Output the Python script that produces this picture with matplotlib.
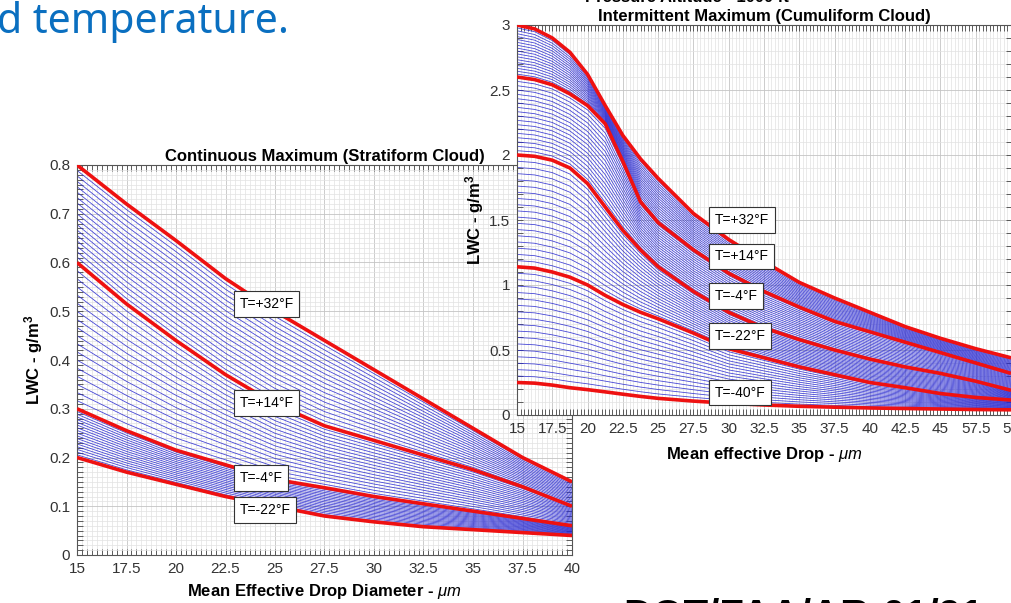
import matplotlib
matplotlib.use("Agg")
import matplotlib.pyplot as plt
from matplotlib.ticker import MultipleLocator, FixedLocator, FuncFormatter
import numpy as np

plt.rcParams.update({
    "font.family": ["Liberation Sans", "DejaVu Sans"],
    "mathtext.fontset": "custom",
    "mathtext.rm": "Liberation Sans",
    "mathtext.it": "Liberation Sans:italic",
    "mathtext.bf": "Liberation Sans:bold",
})

# ---------------- data ----------------
# Continuous maximum (stratiform cloud), LWC [g/m3] vs mean effective drop diameter [um]
cont_d = [15, 17.5, 20, 22.5, 25, 27.5, 30, 32.5, 35, 37.5, 40]
cont_p32 = [0.80, 0.72, 0.645, 0.567, 0.50, 0.44, 0.38, 0.32, 0.26, 0.20, 0.15]
cont_p14 = [0.60, 0.515, 0.44, 0.37, 0.31, 0.265, 0.235, 0.205, 0.175, 0.14, 0.10]
cont_m4 = [0.30, 0.255, 0.215, 0.185, 0.155, 0.138, 0.12, 0.105, 0.09, 0.075, 0.06]
cont_m22 = [0.20, 0.17, 0.145, 0.12, 0.10, 0.08, 0.068, 0.058, 0.052, 0.046, 0.04]
cont_labels = ["T=+32°F", "T=+14°F", "T=-4°F", "T=-22°F"]

# Intermittent maximum (cumuliform cloud)
int_d = [15, 16.25, 17.5, 18.75, 20, 21.25, 22.5, 23.75, 25, 27.5, 30, 32.5, 35,
         37.5, 40, 42.5, 45, 47.5, 50]
int_p32 = [3.0, 2.97, 2.9, 2.79, 2.62, 2.38, 2.15, 1.97, 1.82, 1.55, 1.35, 1.18, 1.02,
           0.9, 0.79, 0.68, 0.59, 0.51, 0.44]
int_p14 = [2.6, 2.58, 2.54, 2.47, 2.38, 2.24, 1.95, 1.64, 1.48, 1.27, 1.09, 0.95, 0.83,
           0.72, 0.64, 0.56, 0.48, 0.40, 0.32]
int_m4 = [2.0, 1.99, 1.96, 1.9, 1.78, 1.6, 1.42, 1.27, 1.14, 0.95, 0.79, 0.67, 0.58,
          0.5, 0.43, 0.37, 0.32, 0.26, 0.19]
int_m22 = [1.14, 1.13, 1.10, 1.06, 1.0, 0.92, 0.85, 0.79, 0.74, 0.63, 0.51, 0.44, 0.37,
           0.31, 0.25, 0.21, 0.165, 0.135, 0.115]
int_m40 = [0.25, 0.245, 0.23, 0.21, 0.195, 0.178, 0.16, 0.143, 0.128, 0.107, 0.09, 0.077,
           0.067, 0.06, 0.054, 0.05, 0.046, 0.042, 0.04]
int_labels = ["T=+32°F", "T=+14°F", "T=-4°F", "T=-22°F", "T=-40°F"]
int_ticks = [15, 17.5, 20, 22.5, 25, 27.5, 30, 32.5, 35, 37.5, 40, 42.5, 45, 47.5, 50]
int_xticklabels = ["15", "17.5", "20", "22.5", "25", "27.5", "30", "32.5", "35",
                   "37.5", "40", "42.5", "45", "57.5", "50"]

STEPS = 18  # 1 degF between labelled curves (18 degF apart)

W, H = 1011, 603
fig = plt.figure(figsize=(W / 100, H / 100), dpi=100)


def px(x0, y0, x1, y1):
    return [x0 / W, 1 - y1 / H, (x1 - x0) / W, (y1 - y0) / H]


def style(ax, xlim, ylim, ymaj, ymin):
    ax.set_xlim(*xlim); ax.set_ylim(*ylim)
    ax.xaxis.set_major_locator(MultipleLocator(2.5))
    ax.xaxis.set_minor_locator(MultipleLocator(0.25))
    ax.yaxis.set_major_locator(MultipleLocator(ymaj))
    ax.yaxis.set_minor_locator(MultipleLocator(ymin))
    fmt = FuncFormatter(lambda v, p: "%g" % round(v, 3))
    ax.xaxis.set_major_formatter(fmt); ax.yaxis.set_major_formatter(fmt)
    ax.grid(which="major", color="#c4c4c4", lw=0.6)
    ax.grid(which="minor", color="#e2e2e2", lw=0.5)
    ax.set_axisbelow(True)
    ax.tick_params(which="both", direction="in", top=True, right=True,
                   length=4, width=0.6, color="#444444")
    ax.tick_params(which="major", labelsize=11, labelcolor="#333333", pad=5)
    for s in ax.spines.values():
        s.set_color("#555555"); s.set_linewidth(0.8)


def family(ax, d, curves):
    d = np.array(d)
    for up, lo in zip(curves[:-1], curves[1:]):
        up = np.array(up); lo = np.array(lo)
        for k in range(1, STEPS):
            ax.plot(d, up + (lo - up) * k / STEPS, color="#2828d0", lw=0.6, alpha=0.85, zorder=2)
    for c in curves:
        ax.plot(d, c, color="#ee1111", lw=2.6, zorder=3, solid_capstyle="butt")


def tag(ax, x, y, s):
    ax.text(x, y, s, fontsize=10, ha="left", va="center", zorder=5,
            bbox=dict(boxstyle="square,pad=0.42", fc="white", ec="#333333", lw=0.8))


# ---------------- left chart ----------------
axL = fig.add_axes(px(77, 165, 572, 555))
style(axL, (15, 40), (0, 0.8), 0.1, 0.01)
family(axL, cont_d, [cont_p32, cont_p14, cont_m4, cont_m22])
for s, ly in zip(cont_labels, [0.515, 0.312, 0.158, 0.092]):
    tag(axL, 23.2, ly, s)
axL.set_title("Continuous Maximum (Stratiform Cloud)", fontsize=12, fontweight="bold", pad=3)
axL.set_xlabel(r"Mean Effective Drop Diameter - $\mu m$", fontsize=12, fontweight="bold")
axL.xaxis.set_label_coords(0.5, -0.068)
axL.xaxis.label.set_va("top")
axL.set_ylabel(r"LWC - g/m$^\mathbf{3}$", fontsize=12, fontweight="bold")
axL.yaxis.set_label_coords(-0.064, 0.5)

# ---------------- right chart ----------------
axR = fig.add_axes(px(517, 25, 1012, 415))
style(axR, (15, 50.07), (0, 3), 0.5, 0.1)
axR.xaxis.set_major_locator(FixedLocator(int_ticks))
axR.set_xticklabels(int_xticklabels)
family(axR, int_d, [int_p32, int_p14, int_m4, int_m22, int_m40])
for s, ly in zip(int_labels, [1.5, 1.22, 0.915, 0.61, 0.173]):
    tag(axR, 29.0, ly, s)
axR.set_title("Intermittent Maximum (Cumuliform Cloud)", fontsize=12, fontweight="bold", pad=3)
axR.set_xlabel(r"Mean effective Drop - $\mu m$", fontsize=12, fontweight="bold")
axR.xaxis.set_label_coords(0.5, -0.077)
axR.xaxis.label.set_va("top")
axR.set_ylabel(r"LWC - g/m$^\mathbf{3}$", fontsize=12, fontweight="bold")
axR.yaxis.set_label_coords(-0.062, 0.5)

# ---------------- slide text ----------------
fig.text(687 / W, 1 - 1.5 / H, "Pressure Altitude - 1000 ft", fontsize=12, fontweight="bold",
         ha="center", va="baseline")
fig.text(289 / W, 1 - 33 / H, "d temperature.", fontsize=29.5, color="#0a6fc0",
         family="Noto Sans", ha="right", va="baseline")
fig.text(623 / W, 1 - 597 / H, "DOT/FAA/AR-01/91", fontsize=29, fontweight="bold",
         ha="left", va="top")

fig.savefig("out.png", dpi=100)
